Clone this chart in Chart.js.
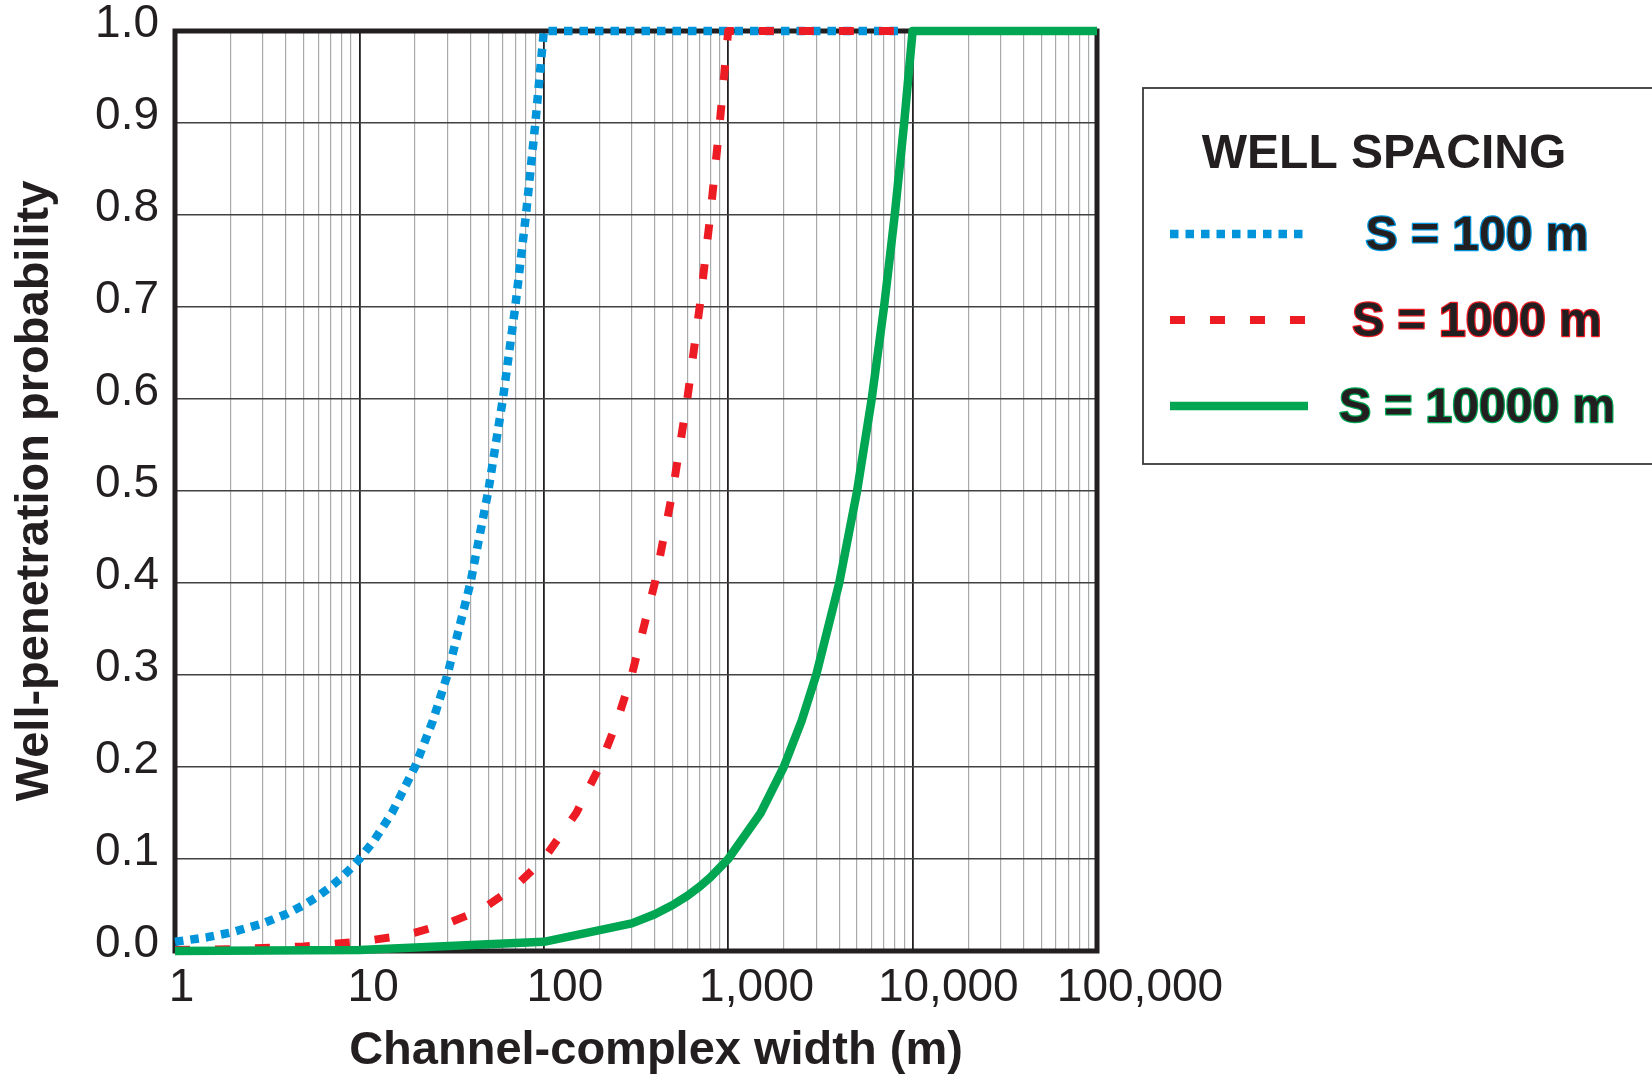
<!DOCTYPE html>
<html>
<head>
<meta charset="utf-8">
<script src="https://cdn.jsdelivr.net/npm/chart.js@4/dist/chart.umd.min.js"></script>
<style>
  html, body { margin: 0; padding: 0; background: #ffffff; }
  #wrap { width: 1652px; height: 1081px; }
</style>
</head>
<body>
<div id="wrap"><canvas id="c" width="1652" height="1081"></canvas></div>
<script>
// Channel-complex widths (m) and well-penetration probabilities for each well spacing
const widths100 = [1, 1.5, 2, 3, 4, 5, 6, 7, 8, 9, 10, 12, 15, 20, 25, 30, 40, 50, 60, 70, 80, 90, 100, 9000];
const prob100 = [0.01, 0.015, 0.02, 0.03, 0.04, 0.05, 0.06, 0.07, 0.08, 0.09, 0.10, 0.12, 0.15, 0.20, 0.25, 0.30, 0.40, 0.50, 0.60, 0.70, 0.80, 0.90, 1.0, 1.0];

const widths1000 = [1, 2, 5, 10, 15, 20, 30, 40, 50, 70, 100, 150, 200, 250, 300, 400, 500, 600, 700, 800, 900, 1000, 9000];
const prob1000 = [0.001, 0.002, 0.005, 0.01, 0.015, 0.02, 0.03, 0.04, 0.05, 0.07, 0.10, 0.15, 0.20, 0.25, 0.30, 0.40, 0.50, 0.60, 0.70, 0.80, 0.90, 1.0, 1.0];

const widths10000 = [1, 10, 100, 300, 400, 500, 600, 700, 800, 1000, 1500, 2000, 2500, 3000, 4000, 5000, 6000, 7000, 8000, 9000, 10000, 100000];
const prob10000 = [0.0001, 0.001, 0.01, 0.03, 0.04, 0.05, 0.06, 0.07, 0.08, 0.10, 0.15, 0.20, 0.25, 0.30, 0.40, 0.50, 0.60, 0.70, 0.80, 0.90, 1.0, 1.0];

const seriesLabels = ['S = 100 m', 'S = 1000 m', 'S = 10000 m'];
const xTickValues = [1, 10, 100, 1000, 10000, 100000];
const xTickLabels = ['1', '10', '100', '1,000', '10,000', '100,000'];
const xTitle = 'Channel-complex width (m)';
const yTitle = 'Well-penetration probability';
const legendTitle = 'WELL SPACING';

const ink = '#231f20';
const blue = '#0095da';
const red = '#ed1c24';
const green = '#00a651';
const sans = '"Liberation Sans", Arial, Helvetica, sans-serif';

function pairs(xs, ys) { return xs.map((v, i) => ({ x: v, y: ys[i] })); }

// Thick frame, x tick labels, x title and the boxed legend
const decorations = {
  id: 'decorations',
  beforeDatasetsDraw(chart) {
    const { ctx, chartArea: a } = chart;
    ctx.save();
    ctx.strokeStyle = ink;
    ctx.lineWidth = 5;
    ctx.strokeRect(a.left, a.top, a.right - a.left, a.bottom - a.top);
    ctx.restore();
  },
  afterDraw(chart) {
    const { ctx, chartArea: a } = chart;
    const x = chart.scales.x;
    ctx.save();
    ctx.fillStyle = ink;
    ctx.textAlign = 'center';
    ctx.textBaseline = 'middle';
    ctx.font = '46px ' + sans;
    xTickValues.forEach((v, i) => {
      ctx.fillText(xTickLabels[i], x.getPixelForValue(v) + 6.5 + 7.3 * i, a.bottom + 37);
    });
    ctx.font = 'bold 47px ' + sans;
    ctx.fillText(xTitle, (a.left + a.right) / 2 + 20, 1051);

    // legend box
    ctx.strokeStyle = '#3a3a3a';
    ctx.lineWidth = 1.8;
    ctx.strokeRect(1143, 88, 700, 376);
    ctx.fillStyle = ink;
    ctx.font = 'bold 48px ' + sans;
    ctx.fillText(legendTitle, 1384, 155);

    const order = [2, 1, 0];
    const rowsY = [234, 320, 406];
    order.forEach((di, r) => {
      const ds = chart.data.datasets[di];
      const y = rowsY[r];
      ctx.save();
      ctx.strokeStyle = ds.borderColor;
      ctx.lineWidth = ds.borderWidth;
      ctx.lineCap = 'butt';
      ctx.setLineDash(ds.borderDash || []);
      ctx.beginPath();
      ctx.moveTo(1170, y);
      ctx.lineTo(1308, y);
      ctx.stroke();
      ctx.restore();

      ctx.font = 'bold 48px ' + sans;
      ctx.lineJoin = 'round';
      ctx.lineWidth = 2.5;
      ctx.strokeStyle = ds.borderColor;
      ctx.strokeText(ds.label, 1477, y + 3);
      ctx.fillStyle = ink;
      ctx.fillText(ds.label, 1477, y + 3);
    });
    ctx.restore();
  }
};

new Chart(document.getElementById('c'), {
  type: 'line',
  data: {
    datasets: [
      {
        label: seriesLabels[2],
        data: pairs(widths10000, prob10000),
        borderColor: green,
        borderWidth: 8.5,
        borderJoinStyle: 'round'
      },
      {
        label: seriesLabels[1],
        data: pairs(widths1000, prob1000),
        borderColor: red,
        borderWidth: 8,
        borderDash: [15, 25],
        borderJoinStyle: 'round'
      },
      {
        label: seriesLabels[0],
        data: pairs(widths100, prob100),
        borderColor: blue,
        borderWidth: 8.5,
        borderDash: [8.5, 7],
        borderJoinStyle: 'round'
      }
    ]
  },
  options: {
    responsive: false,
    animation: false,
    devicePixelRatio: 1,
    clip: false,
    layout: { padding: { top: 31, right: 555, bottom: 0, left: 0 } },
    elements: {
      point: { radius: 0, hoverRadius: 0 },
      line: { tension: 0, fill: false, borderCapStyle: 'butt' }
    },
    plugins: {
      legend: { display: false },
      tooltip: { enabled: false }
    },
    scales: {
      x: {
        type: 'logarithmic',
        min: 1,
        max: 100000,
        afterBuildTicks(scale) {
          const t = [];
          for (let d = 0; d < 5; d++) {
            for (let m = 1; m < 10; m++) t.push({ value: m * Math.pow(10, d) });
          }
          t.push({ value: 100000 });
          scale.ticks = t;
        },
        afterFit(scale) {
          scale.height = 130;
          scale.paddingLeft = 0;
          scale.paddingRight = 0;
        },
        border: { display: false },
        grid: {
          drawTicks: false,
          color: (c) => xTickValues.includes(c.tick && c.tick.value) ? ink : '#a7a9ac',
          lineWidth: (c) => xTickValues.includes(c.tick && c.tick.value) ? 1.8 : 1.2
        },
        ticks: { display: false, autoSkip: false }
      },
      y: {
        min: 0,
        max: 1,
        afterFit(scale) {
          scale.width = 175;
          scale.paddingTop = 0;
          scale.paddingBottom = 0;
        },
        border: { display: false },
        grid: { drawTicks: false, color: '#414042', lineWidth: 1.6 },
        ticks: {
          stepSize: 0.1,
          padding: 16,
          labelOffset: -7,
          color: ink,
          font: { family: sans, size: 46 },
          callback: (v) => Number(v).toFixed(1)
        },
        title: {
          display: true,
          text: yTitle,
          color: ink,
          font: { family: sans, size: 47, weight: 'bold' },
          padding: { top: 7, bottom: 0 }
        }
      }
    }
  },
  plugins: [decorations]
});
</script>
</body>
</html>
